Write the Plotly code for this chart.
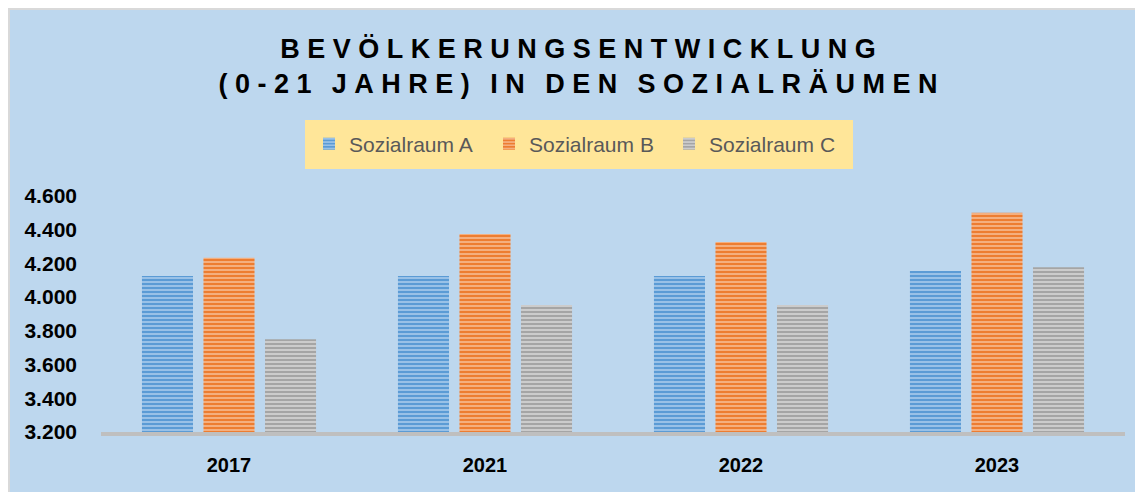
import plotly.graph_objects as go

years = ["2017", "2021", "2022", "2023"]
series_names = ["Sozialraum A", "Sozialraum B", "Sozialraum C"]
sozialraum_a = [4125, 4125, 4125, 4155]
sozialraum_b = [4234, 4374, 4327, 4501]
sozialraum_c = [3750, 3953, 3953, 4177]
y_ticks = [3200, 3400, 3600, 3800, 4000, 4200, 4400, 4600]
y_tick_labels = ["3.200", "3.400", "3.600", "3.800", "4.000", "4.200", "4.400", "4.600"]
title_lines = ["BEVÖLKERUNGSENTWICKLUNG", "(0-21 JAHRE) IN DEN SOZIALRÄUMEN"]

colors = ["#5B9BD5", "#ED7D31", "#A5A5A5"]
light = ["#A9CBEC", "#F6BC93", "#D6D6D6"]

OFF = 8  # default page body margin
W, H = 1143 - OFF, 492 - OFF
L, R, T, B = 101 - OFF, 18, 196 - OFF, 60
pw, ph = W - L - R, H - T - B

fig = go.Figure()
for name, vals, c, lc in zip(series_names, [sozialraum_a, sozialraum_b, sozialraum_c], colors, light):
    fig.add_trace(go.Bar(
        x=years, y=vals, name=name,
        marker=dict(color=c, line=dict(width=0),
                    pattern=dict(shape="-", bgcolor=c, fgcolor=lc, size=4, solidity=0.4, fgopacity=1)),
    ))

def px_x(p):
    return (p - OFF - L) / pw

def px_y(p):
    return (H - B - (p - OFF)) / ph

NB = "\u00a0"
def spaced(s):
    return (NB + "\u2009" + NB).join(NB.join(list(w)) for w in s.split(" "))

title_text = "<br>".join(spaced(t) for t in title_lines)

FONT = "Liberation Sans, Arial, sans-serif"
fig.update_layout(
    width=W, height=H,
    margin=dict(l=L, r=R, t=T, b=B, autoexpand=False),
    paper_bgcolor="white",
    plot_bgcolor="rgba(0,0,0,0)",
    barmode="group", bargap=0.279, bargroupgap=0.17,
    title=dict(text=title_text, x=(578 - OFF) / W, xanchor="center", xref="container",
               y=1 - 49.5 / H, yanchor="middle",
               font=dict(family=FONT, size=27, color="#000000", weight="bold")),
    legend=dict(orientation="h", x=px_x(579), xanchor="center", xref="paper",
                y=px_y(144), yanchor="middle", yref="paper",
                bgcolor="#FFE699", bordercolor="#FFE699", borderwidth=4,
                entrywidth=135, entrywidthmode="pixels",
                font=dict(family=FONT, size=21, color="#595959"),
                itemclick=False),
    showlegend=True,
    xaxis=dict(showline=True, linecolor="#BFBFBF", linewidth=4, showgrid=False, zeroline=False,
               ticks="", tickfont=dict(family=FONT, size=20, color="#000000", weight="bold"),
               ticklabelstandoff=12),
    yaxis=dict(range=[3200, 4600], tickvals=y_ticks, ticktext=y_tick_labels, showgrid=False, zeroline=False,
               showline=False, ticks="",
               tickfont=dict(family=FONT, size=21, color="#000000", weight="bold"),
               ticklabelstandoff=23),
    shapes=[dict(type="rect", xref="paper", yref="paper", layer="below",
                 x0=px_x(OFF + 1), x1=px_x(1143 + 20), y0=px_y(492 + 20), y1=px_y(OFF + 1),
                 fillcolor="#BDD7EE", line=dict(color="#D9D9D9", width=2))],
)

fig.write_html("out.html")
